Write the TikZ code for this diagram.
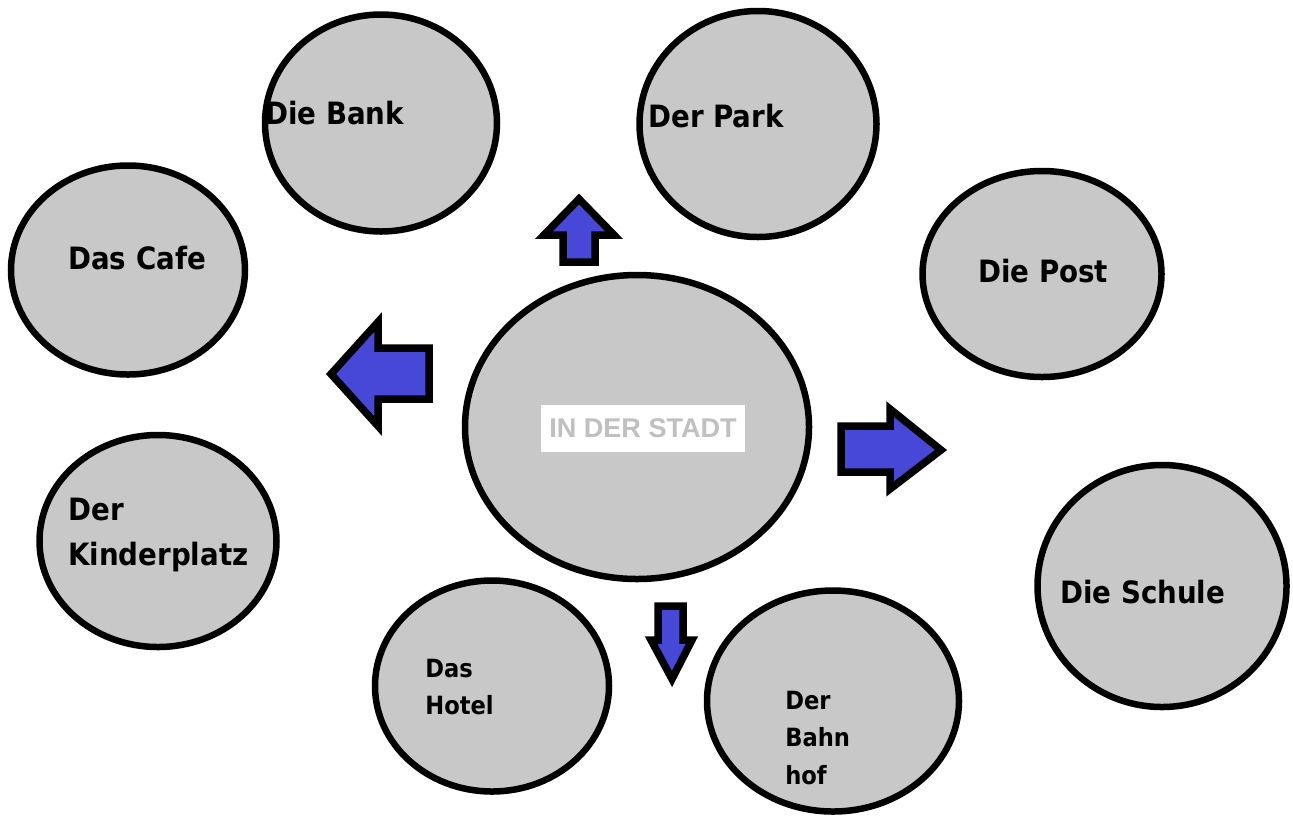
\documentclass[tikz,border=0pt]{standalone}
\usepackage{fontspec}
\setmainfont{DejaVu Sans Condensed}
\newfontfamily\arialfont{Liberation Sans}
\usetikzlibrary{shapes.geometric}
\definecolor{placegray}{RGB}{200,200,200}
\definecolor{arrowblue}{RGB}{72,72,216}
\definecolor{titlegray}{RGB}{192,192,192}
\tikzset{place/.style = {ellipse,draw=black,line width=0.13cm,fill=placegray,inner sep=0pt}}
\tikzset{lbl/.style = {anchor=west,inner sep=0pt,align=left,font=\bfseries\fontsize{17.5}{25.5}\selectfont}}
\tikzset{small/.style = {lbl,font=\bfseries\fontsize{14.3}{21.5}\selectfont}}
\tikzset{blockarrow/.style = {draw=black,line width=0.15cm,fill=arrowblue,line join=miter}}

\begin{document}
\begin{tikzpicture}[x=0.02cm,y=-0.02cm]
      \useasboundingbox (0,0) rectangle (1293,822);

      % places: name/x/y/width/height (in px)
      \foreach \n/\x/\y/\w/\h in {bank/381/123/232/217,park/758/124/237/226,cafe/128/270/234/209,
          post/1042/274/239/206,stadt/637/427/344/304,kinder/158/541/237/212,schule/1162/586/249/242,
          hotel/492/686/234/211,bahnhof/833/701/252/221}
        \node[place,minimum width=\w*0.02cm,minimum height=\h*0.02cm] (\n) at (\x,\y) {};

      \node[fill=white,text=titlegray,minimum width=4.08cm,minimum height=0.94cm,inner sep=0pt,
            font=\arialfont\bfseries\fontsize{15.4}{18}\selectfont] (title) at (643,428) {IN DER STADT};

      \node[lbl] (tbank) at (265,113) {Die Bank};
      \node[lbl] (tpark) at (648,116) {Der Park};
      \node[lbl] (tcafe) at (68,258) {Das Cafe};
      \node[lbl] (tpost) at (978,271) {Die Post};
      \node[lbl] (tkinder) at (68,535) {Der\\Kinderplatz};
      \node[lbl] (tschule) at (1060,592) {Die Schule};
      \node[small] (thotel) at (425,687) {Das\\Hotel};
      \node[small] (tbahnhof) at (785,738) {Der\\Bahn\\hof};

      % arrows
      \draw[blockarrow] (563,262)--(563,235)--(544,235)--(579,199)--(614,235)--(595,235)--(595,262)--cycle;
      \draw[blockarrow] (429,348)--(378,348)--(378,322)--(331,374)--(378,426)--(378,399)--(429,399)--cycle;
      \draw[blockarrow] (841,426)--(890,426)--(890,409)--(941,450)--(890,489)--(890,472)--(841,472)--cycle;
      \draw[blockarrow] (658,606)--(683,606)--(683,640)--(692,640)--(672,679)--(651,640)--(658,640)--cycle;

\end{tikzpicture}
\end{document}
